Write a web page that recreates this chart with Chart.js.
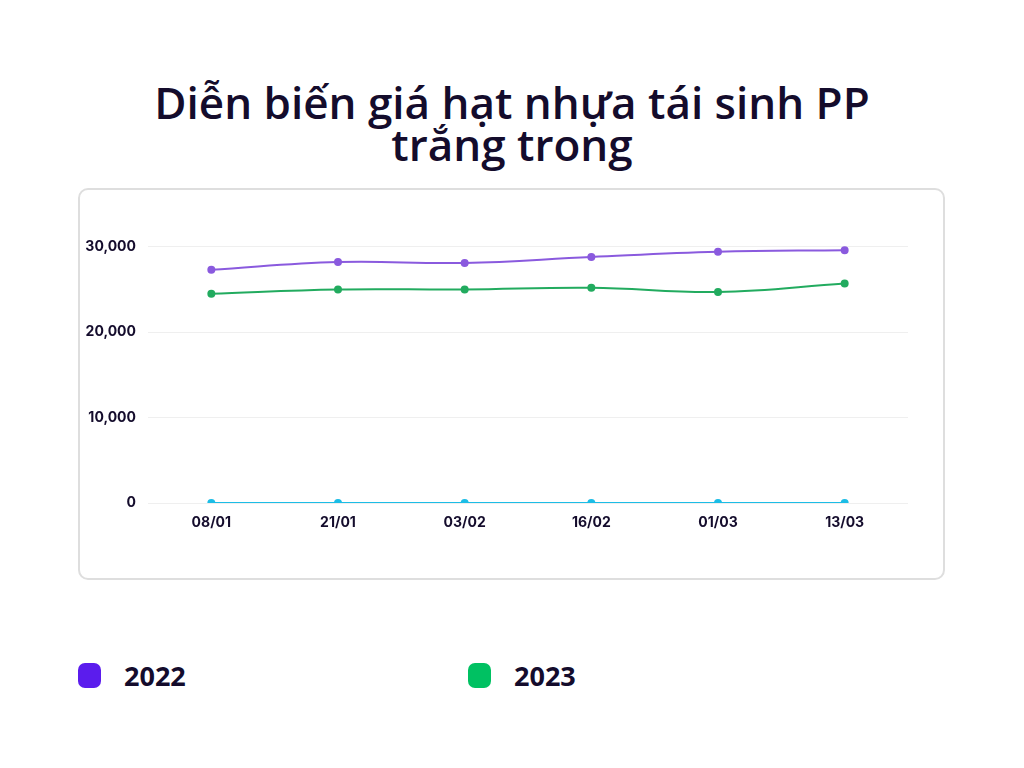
<!DOCTYPE html>
<html><head><meta charset="utf-8">
<script src="https://cdn.jsdelivr.net/npm/chart.js@4"></script>
<style>
html,body{margin:0;padding:0;background:#fff;width:1024px;height:768px;overflow:hidden;}
#title{position:absolute;left:0;top:81px;width:1024px;text-align:center;font-family:"Open Sans",sans-serif;font-weight:600;font-size:44px;line-height:42px;color:#140c2c;}
#card{position:absolute;left:78px;top:188px;width:867px;height:392px;box-sizing:border-box;border:2px solid #dedede;border-radius:10px;}
#wrap{position:absolute;left:0;top:0;width:863px;height:388px;}
.leg{position:absolute;top:663px;height:25px;font-family:"Open Sans",sans-serif;font-weight:700;font-size:27px;color:#140c2c;line-height:25px;}
.sw{position:absolute;left:0;top:0;width:23px;height:25px;border-radius:7px;}
.lt{position:absolute;left:46px;top:0;}
</style></head>
<body>
<div id="title">Diễn biến giá hạt nhựa tái sinh PP<br>trắng trong</div>
<div id="card"><div id="wrap"><canvas id="c"></canvas></div></div>
<div class="leg" style="left:78px"><div class="sw" style="background:#5b1ced"></div><div class="lt">2022</div></div>
<div class="leg" style="left:468px"><div class="sw" style="background:#00c162"></div><div class="lt">2023</div></div>
<script>
const labels = ["08/01","21/01","03/02","16/02","01/03","13/03"];
const values2022 = [27300, 28200, 28100, 28800, 29400, 29600];
const values2023 = [24500, 25000, 25000, 25200, 24700, 25700];
const valuesZero = [0, 0, 0, 0, 0, 0];
const yTicks = [0, 10000, 20000, 30000];

const tickFont = {family:"Inter", weight:"700", size:14};
new Chart(document.getElementById('c'), {
  type:'line',
  data:{labels:labels, datasets:[
    {label:'2022', data:values2022, borderColor:'#8a5ade', backgroundColor:'#8a5ade', borderWidth:2, pointRadius:3, tension:0.4},
    {label:'2023', data:values2023, borderColor:'#22ab5f', backgroundColor:'#22ab5f', borderWidth:2, pointRadius:3, tension:0.4},
    {label:'', data:valuesZero, borderColor:'#1cbde6', backgroundColor:'#1cbde6', borderWidth:2, pointRadius:3, tension:0.4}
  ]},
  options:{
    responsive:true, maintainAspectRatio:false, animation:false,
    layout:{padding:{left:0,right:35,top:14,bottom:0}},
    plugins:{legend:{display:false}, tooltip:{enabled:false}},
    scales:{
      x:{offset:true, grid:{display:false, drawTicks:false}, border:{display:false},
         ticks:{font:tickFont, color:'#140c2c', padding:11},
         afterFit:(s)=>{s.height=75;}},
      y:{min:0, max:35000, grid:{color:'#efefef', drawTicks:false}, border:{display:false},
         afterBuildTicks:(s)=>{s.ticks = yTicks.map(v=>({value:v}));},
         ticks:{font:tickFont, color:'#140c2c', padding:12, callback:(v)=>v.toLocaleString('en-US')},
         afterFit:(s)=>{s.width=68; s.paddingTop=0; s.paddingBottom=0;}}
    }
  }
});
</script>
</body></html>
